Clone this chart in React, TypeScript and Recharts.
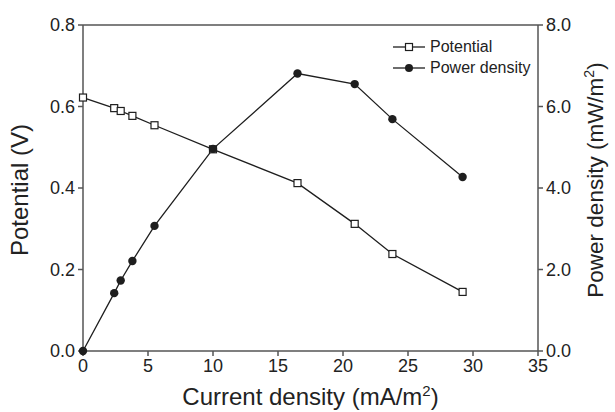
import { ComposedChart, Line, XAxis, YAxis, Legend, ReferenceLine, Label } from 'recharts';

const currentDensity = [0, 2.4, 2.9, 3.8, 5.5, 10.0, 16.5, 20.9, 23.8, 29.2];
const potential = [0.622, 0.596, 0.589, 0.577, 0.554, 0.495, 0.412, 0.312, 0.238, 0.145];
const powerDensity = [0, 1.42, 1.73, 2.21, 3.07, 4.96, 6.81, 6.55, 5.69, 4.27];

const xTicks = [0, 5, 10, 15, 20, 25, 30, 35];
const potentialTicks = [0, 0.2, 0.4, 0.6, 0.8];
const powerTicks = [0, 2, 4, 6, 8];

const data = currentDensity.map((x, i) => ({
  x,
  potential: potential[i],
  power: powerDensity[i],
}));

const FONT = '"Liberation Sans", Arial, sans-serif';
const INK = '#1e1e1e';
const AXIS = '#555';

const SquareDot = (p: any) => {
  if (p.cx == null || p.cy == null) return <g key={p.index} />;
  return (
    <rect
      key={`sq-${p.index}`}
      x={p.cx - 3.5}
      y={p.cy - 3.5}
      width={7}
      height={7}
      fill="#fff"
      stroke={INK}
      strokeWidth={1.2}
    />
  );
};

const CircleDot = (p: any) => {
  if (p.cx == null || p.cy == null) return <g key={p.index} />;
  return <circle key={`c-${p.index}`} cx={p.cx} cy={p.cy} r={4.2} fill={INK} stroke="none" />;
};

const LegendBox = () => {
  const row = (name: string, square: boolean) => (
    <div key={name} style={{ display: 'flex', alignItems: 'center', height: 21 }}>
      <svg width={34} height={12} style={{ marginRight: 3 }}>
        <line x1={0} y1={6} x2={32} y2={6} stroke={INK} strokeWidth={1.3} />
        {square ? (
          <rect x={12.5} y={2.5} width={7} height={7} fill="#fff" stroke={INK} strokeWidth={1.2} />
        ) : (
          <circle cx={16} cy={6} r={4} fill={INK} />
        )}
      </svg>
      <span style={{ fontSize: 16, color: '#222', fontFamily: FONT }}>{name}</span>
    </div>
  );
  return (
    <div>
      {row('Potential', true)}
      {row('Power density', false)}
    </div>
  );
};

export default function App() {
  return (
    <div style={{ position: 'absolute', left: 0, top: 0, width: 615, height: 412, background: '#fff' }}>
      <ComposedChart
        width={615}
        height={412}
        data={data}
        margin={{ top: 25, right: 0, bottom: 0, left: 0 }}
        style={{ fontFamily: FONT }}
      >
        <XAxis
          dataKey="x"
          type="number"
          domain={[0, 35]}
          ticks={xTicks}
          height={61}
          tickSize={5}
          tickMargin={3}
          tick={{ fontSize: 18, fill: '#222' }}
          axisLine={{ stroke: AXIS, strokeWidth: 1.5 }}
          tickLine={{ stroke: AXIS, strokeWidth: 1.5 }}
        >
          <Label
            content={({ viewBox }: any) => (
              <text
                x={viewBox.x + viewBox.width / 2}
                y={viewBox.y + 54}
                textAnchor="middle"
                fontSize={24}
                fill="#222"
                fontFamily={FONT}
              >
                Current density (mA/m<tspan dy={-9} fontSize={15}>2</tspan>
                <tspan dy={9}>)</tspan>
              </text>
            )}
          />
        </XAxis>
        <YAxis
          yAxisId="left"
          domain={[0, 0.8]}
          ticks={potentialTicks}
          width={83}
          tickSize={5}
          tickMargin={3}
          tickFormatter={(v: number) => v.toFixed(1)}
          tick={{ fontSize: 18, fill: '#222' }}
          axisLine={{ stroke: AXIS, strokeWidth: 1.5 }}
          tickLine={{ stroke: AXIS, strokeWidth: 1.5 }}
        >
          <Label
            content={({ viewBox }: any) => {
              const cx = 28;
              const cy = viewBox.y + viewBox.height / 2 + 2;
              return (
                <text
                  x={cx}
                  y={cy}
                  transform={`rotate(-90 ${cx} ${cy})`}
                  textAnchor="middle"
                  fontSize={24}
                  fill="#222"
                  fontFamily={FONT}
                >
                  Potential (V)
                </text>
              );
            }}
          />
        </YAxis>
        <YAxis
          yAxisId="right"
          orientation="right"
          domain={[0, 8]}
          ticks={powerTicks}
          width={77}
          tickSize={5}
          tickMargin={3}
          tickFormatter={(v: number) => v.toFixed(1)}
          tick={{ fontSize: 18, fill: '#222' }}
          axisLine={{ stroke: AXIS, strokeWidth: 1.5 }}
          tickLine={{ stroke: AXIS, strokeWidth: 1.5 }}
        >
          <Label
            content={({ viewBox }: any) => {
              const cx = viewBox.x + viewBox.width - 12;
              const cy = viewBox.y + viewBox.height / 2 - 8;
              return (
                <text
                  x={cx}
                  y={cy}
                  transform={`rotate(-90 ${cx} ${cy})`}
                  textAnchor="middle"
                  fontSize={22.5}
                  fill="#222"
                  fontFamily={FONT}
                >
                  Power density (mW/m<tspan dy={-9} fontSize={14}>2</tspan>
                  <tspan dy={9}>)</tspan>
                </text>
              );
            }}
          />
        </YAxis>
        <ReferenceLine yAxisId="left" y={0.8} stroke={AXIS} strokeWidth={1.5} ifOverflow="visible" />
        <Legend
          layout="vertical"
          align="center"
          verticalAlign="middle"
          content={<LegendBox />}
          wrapperStyle={{ position: 'absolute', left: 393, top: 36, width: 'auto' }}
        />
        <Line
          yAxisId="left"
          dataKey="potential"
          name="Potential"
          type="linear"
          stroke={INK}
          strokeWidth={1.3}
          dot={SquareDot}
          isAnimationActive={false}
        />
        <Line
          yAxisId="right"
          dataKey="power"
          name="Power density"
          type="linear"
          stroke={INK}
          strokeWidth={1.3}
          dot={CircleDot}
          isAnimationActive={false}
        />
      </ComposedChart>
    </div>
  );
}
